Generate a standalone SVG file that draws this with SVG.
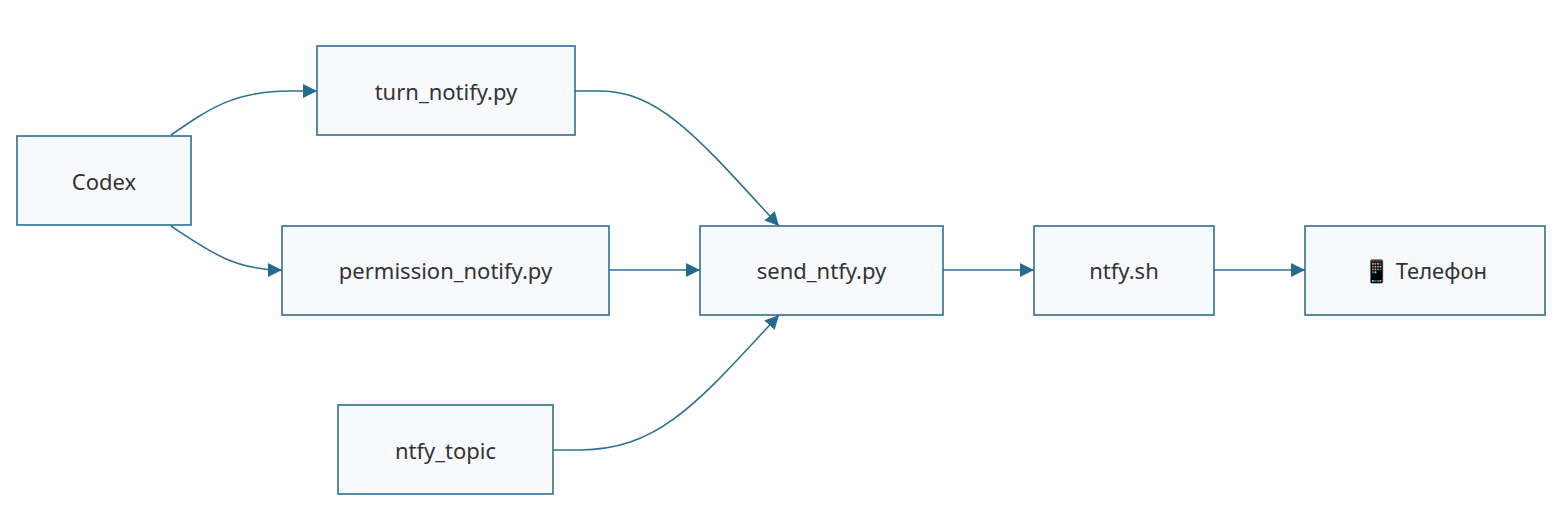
<svg xmlns="http://www.w3.org/2000/svg" width="1560" height="516" viewBox="0 0 1560 516">
<defs>
<style>
.node rect{fill:#f8f9fc;stroke:#2f6f91;stroke-width:1.6}
.node text{font-family:"Noto Sans","Open Sans",sans-serif;font-size:22px;fill:#333;text-anchor:middle;dominant-baseline:central}
.edges path{fill:none;stroke:#2f6f91;stroke-width:1.6;marker-end:url(#arr)}
</style>
<marker id="arr" viewBox="0 0 10 10" refX="10" refY="5" markerWidth="14" markerHeight="14" markerUnits="userSpaceOnUse" orient="auto">
<path d="M0,0 L10,5 L0,10 z" fill="#266b8c"/>
</marker>
</defs>
<rect width="1560" height="516" fill="#ffffff"/>
<g class="edges">
<path d="M171,135 C210,108 235,91 290,91 L317,91"/>
<path d="M171,226 C210,252 235,270 282,270"/>
<path d="M575,91 L600,91 C660,91 700,140 779,226"/>
<path d="M553,450 L580,450 C660,450 700,400 779,315"/>
<path d="M609,270 L700,270"/>
<path d="M943,270 L1034,270"/>
<path d="M1214,270 L1305,270"/>
</g>
<g id="codex" class="node"><rect x="17" y="136" width="174" height="89"/><text x="104" y="181">Codex</text></g>
<g id="turn_notify" class="node"><rect x="317" y="46" width="258" height="89"/><text x="446" y="91">turn_notify.py</text></g>
<g id="permission_notify" class="node"><rect x="282" y="226" width="327" height="89"/><text x="445.5" y="270">permission_notify.py</text></g>
<g id="ntfy_topic" class="node"><rect x="338" y="405" width="215" height="89"/><text x="445.5" y="450">ntfy_topic</text></g>
<g id="send_ntfy" class="node"><rect x="700" y="226" width="243" height="89"/><text x="821.5" y="270">send_ntfy.py</text></g>
<g id="ntfy_sh" class="node"><rect x="1034" y="226" width="180" height="89"/><text x="1124" y="270">ntfy.sh</text></g>
<g id="phone" class="node"><rect x="1305" y="226" width="240" height="89"/><text x="1425" y="270">📱 Телефон</text></g>
</svg>
